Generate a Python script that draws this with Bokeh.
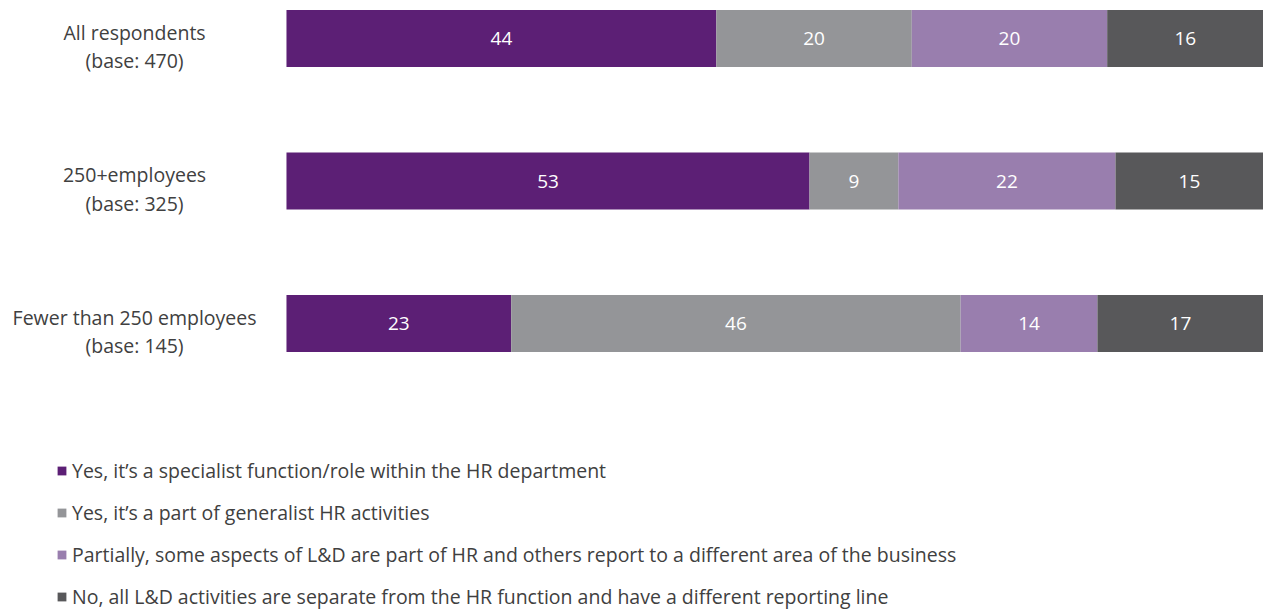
from bokeh.plotting import figure
from bokeh.models import Range1d, ColumnDataSource, Legend, LegendItem
from bokeh.core.properties import value
from bokeh.embed import file_html
from bokeh.resources import INLINE

categories = ["All respondents\n(base: 470)", "250+employees\n(base: 325)", "Fewer than 250 employees\n(base: 145)"]
series_names = [
    "Yes, it\u2019s a specialist function/role within the HR department",
    "Yes, it\u2019s a part of generalist HR activities",
    "Partially, some aspects of L&D are part of HR and others report to a different area of the business",
    "No, all L&D activities are separate from the HR function and have a different reporting line",
]
specialist = [44, 53, 23]
generalist = [20, 9, 46]
partially = [20, 22, 14]
separate = [16, 15, 17]
colors = ["#5c1f75", "#949598", "#997eae", "#58585a"]

FONT = "Open Sans"
TEXT_COLOR = "#404040"
FS = "19.5px"

series = [specialist, generalist, partially, separate]
totals = [sum(v) for v in zip(*series)]
ypos = list(range(len(categories)))

p = figure(width=1263, height=609, output_backend="svg", toolbar_location=None,
           x_range=Range1d(-29.27, 100), y_range=Range1d(4.007, -0.2667),
           min_border=0, min_border_left=0, min_border_right=0, min_border_top=0, min_border_bottom=0)
p.xaxis.visible = False
p.yaxis.visible = False
p.xgrid.visible = False
p.ygrid.visible = False
p.outline_line_color = None

left = [0.0] * len(categories)
renderers = []
for vals, col, name in zip(series, colors, series_names):
    widths = [v / t * 100 for v, t in zip(vals, totals)]
    right = [l + w for l, w in zip(left, widths)]
    src = ColumnDataSource(dict(y=ypos, left=left, right=right,
                                mid=[(l + r) / 2 for l, r in zip(left, right)],
                                lab=[str(v) for v in vals]))
    r = p.hbar(y="y", left="left", right="right", height=0.4, source=src,
               fill_color=col, line_color=None)
    p.text(x="mid", y="y", text="lab", source=src, text_align="center", text_baseline="middle",
           text_color="white", text_font=value(FONT), text_font_size="19px")
    renderers.append(r)
    left = right

LABEL_X = -15.55
lsrc = ColumnDataSource(dict(x=[LABEL_X] * len(categories), y=ypos, t=categories))
p.text(x="x", y="y", text="t", source=lsrc, text_align="center", text_baseline="middle",
       y_offset=8, text_color=TEXT_COLOR, text_font=value(FONT), text_font_size=FS,
       text_line_height=1.07)

legend = Legend(items=[LegendItem(label=n, renderers=[r]) for n, r in zip(series_names, renderers)],
                location=(56, -1), orientation="vertical")
legend.glyph_width = 11
legend.glyph_height = 11
legend.label_standoff = 5
legend.spacing = 15
legend.padding = 0
legend.margin = 0
legend.border_line_color = None
legend.background_fill_alpha = 0
legend.label_text_font = FONT
legend.label_text_font_size = FS
legend.label_text_color = TEXT_COLOR
legend.label_height = 24
p.add_layout(legend, "center")

open("out.html", "w").write(file_html(p, INLINE))
